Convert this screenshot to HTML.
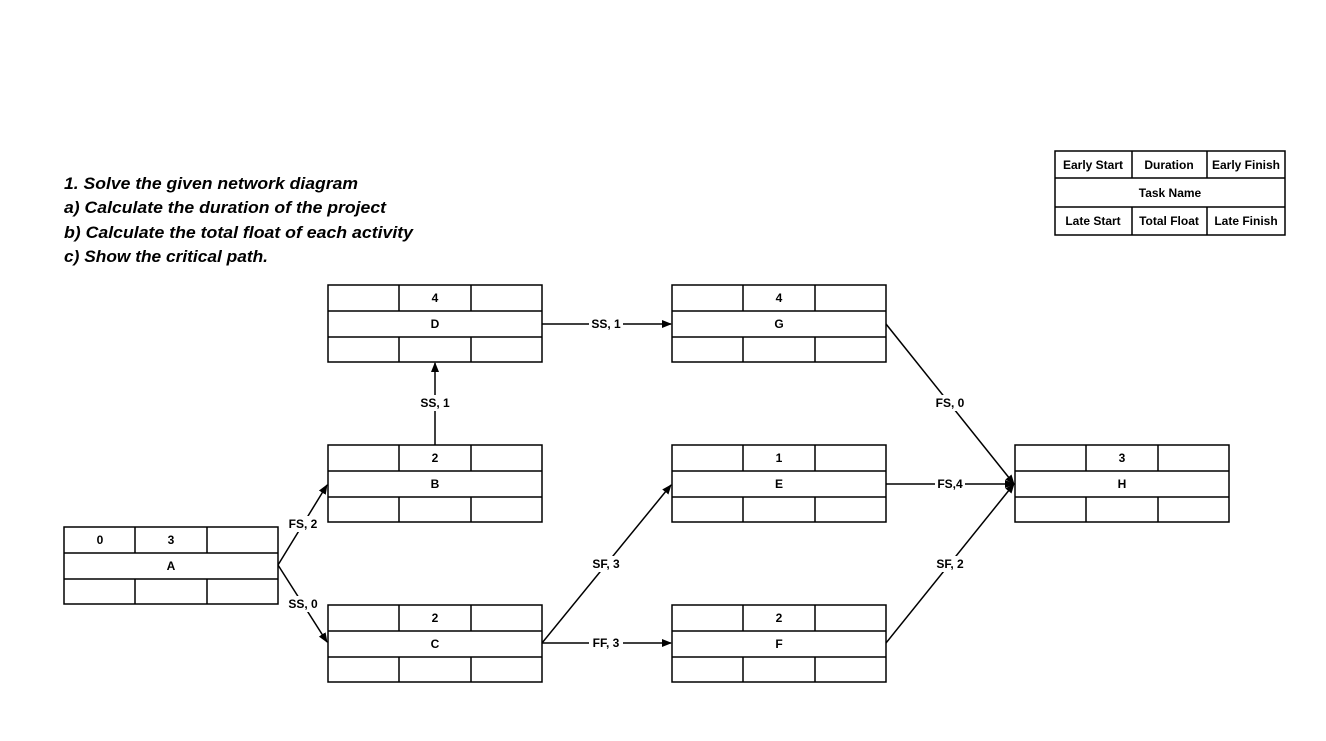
<!DOCTYPE html>
<html><head><meta charset="utf-8"><style>
html,body{margin:0;padding:0;background:#fff;}
svg{display:block;}
text{font-family:"Liberation Sans",Arial,sans-serif;}
.n{font-size:12px;font-weight:bold;text-anchor:middle;}
.l{font-size:12px;font-weight:bold;text-anchor:middle;}
.q{font-size:17px;font-weight:bold;font-style:italic;}
</style></head><body>
<svg width="1326" height="741" viewBox="0 0 1326 741" xmlns="http://www.w3.org/2000/svg">
<defs>
<marker id="ar" markerWidth="10" markerHeight="10" refX="9" refY="5" orient="auto" markerUnits="userSpaceOnUse">
<path d="M0,1 L10,5 L0,9 Z" fill="#000"/></marker>
</defs>
<g stroke="#000" stroke-width="1.5" fill="none">
<!-- nodes -->
<g id="nodes">
<rect x="328" y="285" width="214" height="77"/><line x1="328" y1="311" x2="542" y2="311"/><line x1="328" y1="337" x2="542" y2="337"/><line x1="399" y1="285" x2="399" y2="311"/><line x1="471" y1="285" x2="471" y2="311"/><line x1="399" y1="337" x2="399" y2="362"/><line x1="471" y1="337" x2="471" y2="362"/>
<rect x="672" y="285" width="214" height="77"/><line x1="672" y1="311" x2="886" y2="311"/><line x1="672" y1="337" x2="886" y2="337"/><line x1="743" y1="285" x2="743" y2="311"/><line x1="815" y1="285" x2="815" y2="311"/><line x1="743" y1="337" x2="743" y2="362"/><line x1="815" y1="337" x2="815" y2="362"/>
<rect x="328" y="445" width="214" height="77"/><line x1="328" y1="471" x2="542" y2="471"/><line x1="328" y1="497" x2="542" y2="497"/><line x1="399" y1="445" x2="399" y2="471"/><line x1="471" y1="445" x2="471" y2="471"/><line x1="399" y1="497" x2="399" y2="522"/><line x1="471" y1="497" x2="471" y2="522"/>
<rect x="672" y="445" width="214" height="77"/><line x1="672" y1="471" x2="886" y2="471"/><line x1="672" y1="497" x2="886" y2="497"/><line x1="743" y1="445" x2="743" y2="471"/><line x1="815" y1="445" x2="815" y2="471"/><line x1="743" y1="497" x2="743" y2="522"/><line x1="815" y1="497" x2="815" y2="522"/>
<rect x="1015" y="445" width="214" height="77"/><line x1="1015" y1="471" x2="1229" y2="471"/><line x1="1015" y1="497" x2="1229" y2="497"/><line x1="1086" y1="445" x2="1086" y2="471"/><line x1="1158" y1="445" x2="1158" y2="471"/><line x1="1086" y1="497" x2="1086" y2="522"/><line x1="1158" y1="497" x2="1158" y2="522"/>
<rect x="64" y="527" width="214" height="77"/><line x1="64" y1="553" x2="278" y2="553"/><line x1="64" y1="579" x2="278" y2="579"/><line x1="135" y1="527" x2="135" y2="553"/><line x1="207" y1="527" x2="207" y2="553"/><line x1="135" y1="579" x2="135" y2="604"/><line x1="207" y1="579" x2="207" y2="604"/>
<rect x="328" y="605" width="214" height="77"/><line x1="328" y1="631" x2="542" y2="631"/><line x1="328" y1="657" x2="542" y2="657"/><line x1="399" y1="605" x2="399" y2="631"/><line x1="471" y1="605" x2="471" y2="631"/><line x1="399" y1="657" x2="399" y2="682"/><line x1="471" y1="657" x2="471" y2="682"/>
<rect x="672" y="605" width="214" height="77"/><line x1="672" y1="631" x2="886" y2="631"/><line x1="672" y1="657" x2="886" y2="657"/><line x1="743" y1="605" x2="743" y2="631"/><line x1="815" y1="605" x2="815" y2="631"/><line x1="743" y1="657" x2="743" y2="682"/><line x1="815" y1="657" x2="815" y2="682"/>
</g>
<!-- legend -->
<rect x="1055" y="151" width="230" height="84"/><line x1="1055" y1="178" x2="1285" y2="178"/><line x1="1055" y1="207" x2="1285" y2="207"/><line x1="1132" y1="151" x2="1132" y2="178"/><line x1="1207" y1="151" x2="1207" y2="178"/><line x1="1132" y1="207" x2="1132" y2="235"/><line x1="1207" y1="207" x2="1207" y2="235"/>
<!-- connectors -->
<line x1="542" y1="324" x2="671" y2="324" marker-end="url(#ar)"/>
<line x1="435" y1="445" x2="435" y2="363" marker-end="url(#ar)"/>
<line x1="278" y1="565" x2="327" y2="485" marker-end="url(#ar)"/>
<line x1="278" y1="565" x2="327" y2="642" marker-end="url(#ar)"/>
<line x1="542" y1="643" x2="671" y2="485" marker-end="url(#ar)"/>
<line x1="542" y1="643" x2="671" y2="643" marker-end="url(#ar)"/>
<line x1="886" y1="324" x2="1014" y2="484" marker-end="url(#ar)"/>
<line x1="886" y1="484" x2="1014" y2="484" marker-end="url(#ar)"/>
<line x1="886" y1="643" x2="1014" y2="484" marker-end="url(#ar)"/>
</g>
<!-- label backgrounds -->
<g fill="#fff">
<rect x="589" y="316" width="34" height="16"/><rect x="416" y="395" width="38" height="16"/>
<rect x="284" y="516" width="38" height="16"/><rect x="284" y="596" width="38" height="16"/>
<rect x="587" y="556" width="38" height="16"/><rect x="589" y="635" width="34" height="16"/>
<rect x="930" y="395" width="40" height="16"/><rect x="935" y="476" width="30" height="16"/>
<rect x="930" y="556" width="40" height="16"/>
</g>
<g class="l">
<text x="606" y="328">SS, 1</text><text x="435" y="407">SS, 1</text>
<text x="303" y="528">FS, 2</text><text x="303" y="608">SS, 0</text>
<text x="606" y="568">SF, 3</text><text x="606" y="647">FF, 3</text>
<text x="950" y="407">FS, 0</text><text x="950" y="488">FS,4</text>
<text x="950" y="568">SF, 2</text>
</g>
<g class="n">
<text x="435" y="302">4</text><text x="435" y="328">D</text>
<text x="779" y="302">4</text><text x="779" y="328">G</text>
<text x="435" y="462">2</text><text x="435" y="488">B</text>
<text x="779" y="462">1</text><text x="779" y="488">E</text>
<text x="1122" y="462">3</text><text x="1122" y="488">H</text>
<text x="100" y="544">0</text><text x="171" y="544">3</text><text x="171" y="570">A</text>
<text x="435" y="622">2</text><text x="435" y="648">C</text>
<text x="779" y="622">2</text><text x="779" y="648">F</text>
<text x="1093" y="169">Early Start</text><text x="1169" y="169">Duration</text><text x="1246" y="169">Early Finish</text>
<text x="1170" y="197">Task Name</text>
<text x="1093" y="225">Late Start</text><text x="1169" y="225">Total Float</text><text x="1246" y="225">Late Finish</text>
</g>
<g class="q">
<text x="64" y="189" textLength="294" lengthAdjust="spacingAndGlyphs">1. Solve the given network diagram</text>
<text x="64" y="213" textLength="322" lengthAdjust="spacingAndGlyphs">a) Calculate the duration of the project</text>
<text x="64" y="238" textLength="349" lengthAdjust="spacingAndGlyphs">b) Calculate the total float of each activity</text>
<text x="64" y="262" textLength="204" lengthAdjust="spacingAndGlyphs">c) Show the critical path.</text>
</g>
</svg>
</body></html>
